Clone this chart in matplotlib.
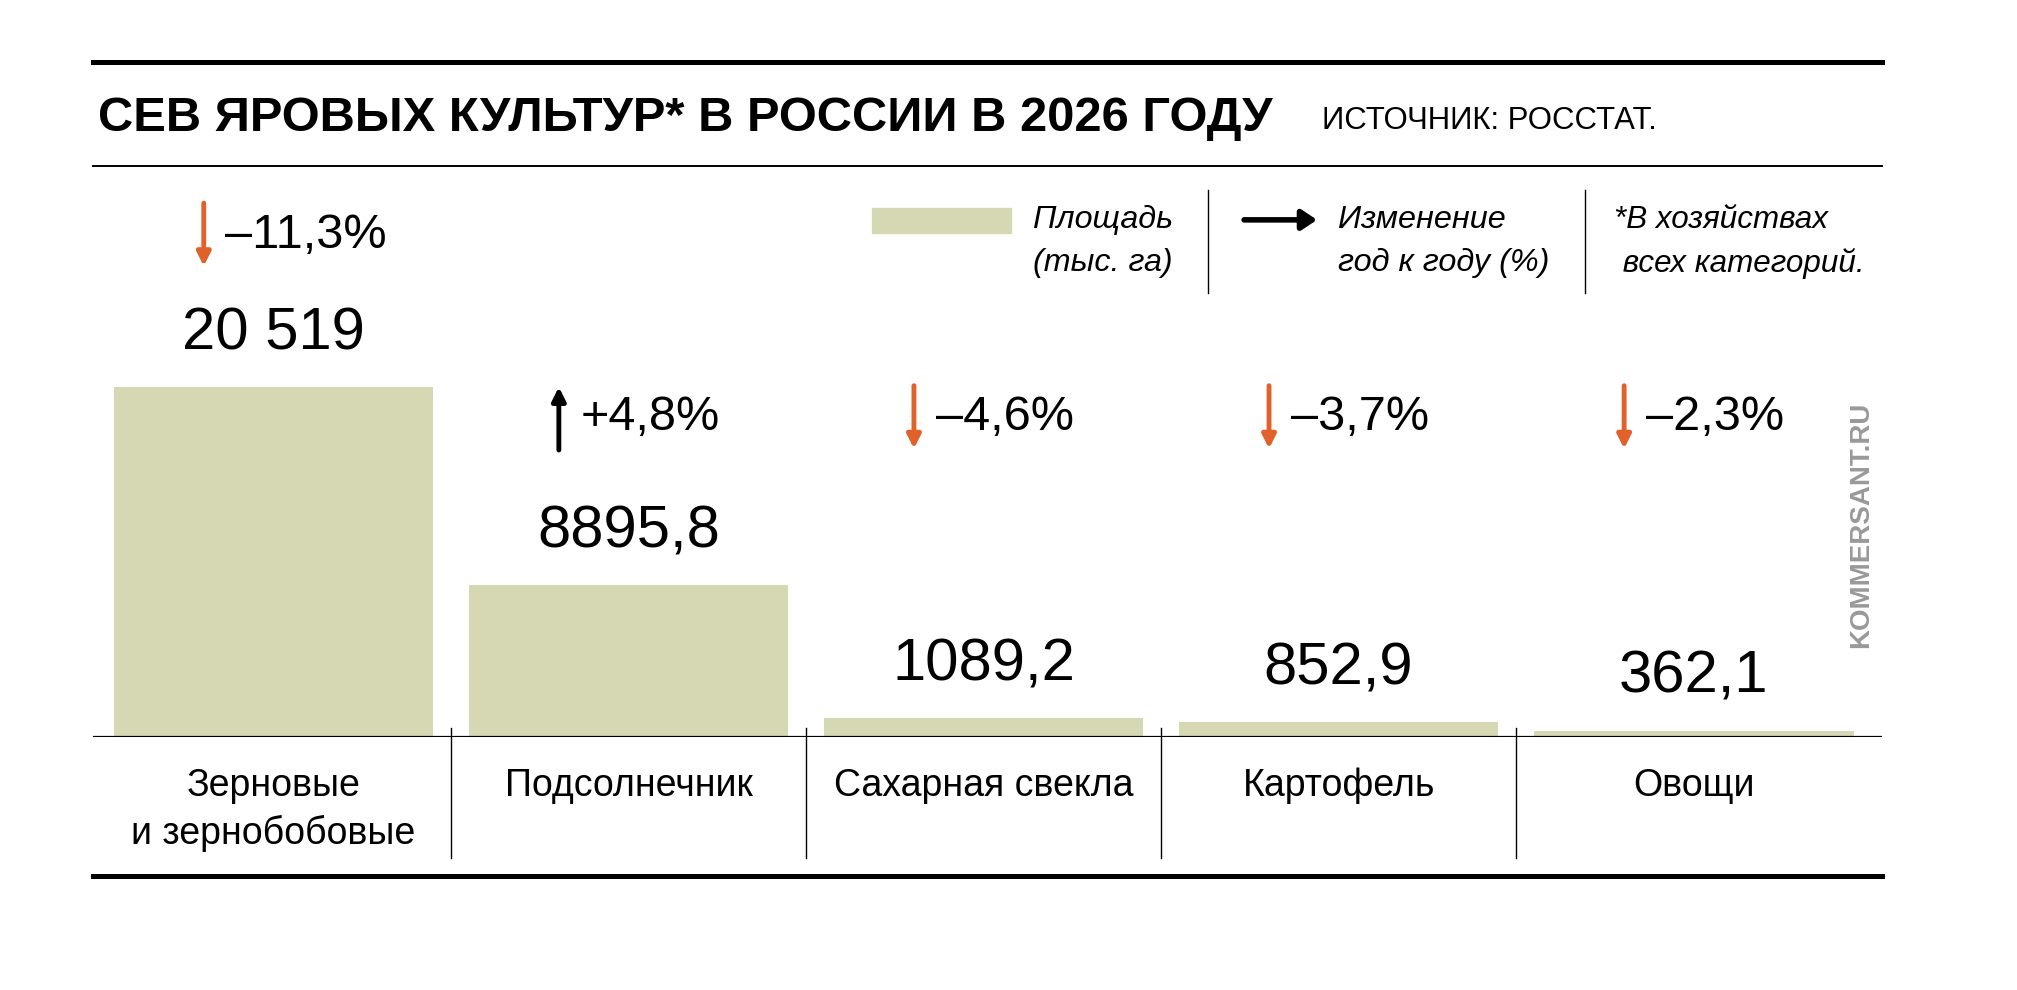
import matplotlib
matplotlib.use("Agg")
import matplotlib.pyplot as plt
from matplotlib.lines import Line2D
from matplotlib.patches import Rectangle, FancyArrowPatch

crops = ["Зерновые\nи зернобобовые", "Подсолнечник", "Сахарная свекла", "Картофель", "Овощи"]
area = [20519, 8895.8, 1089.2, 852.9, 362.1]
area_labels = ["20 519", "8895,8", "1089,2", "852,9", "362,1"]
change = [-11.3, 4.8, -4.6, -3.7, -2.3]

title = "СЕВ ЯРОВЫХ КУЛЬТУР* В РОССИИ В 2026 ГОДУ"
source = "ИСТОЧНИК: РОССТАТ."

BAR = "#d6d7b3"
ORANGE = "#e0622a"
FONT = ["Liberation Sans", "DejaVu Sans"]
plt.rcParams["font.family"] = FONT

# layout is measured on a 1568 x 770 grid and converted to figure fractions
W, H = 1568.0, 770.0
SCALE = 2017 / W
def fx(x):
    return x / W
def fy(y):
    return 1 - y / H

fig = plt.figure(figsize=(20.17, 9.9), dpi=100)
renderer = fig.canvas.get_renderer()

def fit(t, width):
    # shrink or grow a text so it spans the given width (grid pixels)
    w = t.get_window_extent(renderer=renderer).width
    t.set_fontsize(t.get_fontsize() * width * SCALE / w)

def hline(y, x0, x1, lw):
    fig.add_artist(Line2D([fx(x0), fx(x1)], [fy(y), fy(y)], color="black", lw=lw, transform=fig.transFigure))

def vline(x, y0, y1, lw=1.0):
    fig.add_artist(Line2D([fx(x), fx(x)], [fy(y0), fy(y1)], color="black", lw=lw, transform=fig.transFigure))

hline(48, 72, 1463, 3.6)
hline(129, 72, 1463, 1.4)
hline(681, 72, 1463, 3.6)

t = fig.text(fx(76), fy(92), title, fontsize=34, fontweight="bold", va="center", ha="left")
fit(t, 914)
t = fig.text(fx(1028), fy(94), source, fontsize=22, va="center", ha="left")
fit(t, 259)

# legend
fig.add_artist(Rectangle((fx(678), fy(181)), fx(786) - fx(678), fy(162) - fy(181), color=BAR, transform=fig.transFigure))
t = fig.text(fx(803), fy(188), "Площадь\n(тыс. га)", fontsize=24, style="italic", va="center", ha="left", linespacing=1.55)
fit(t, 109)
vline(939, 148, 228)
fig.add_artist(FancyArrowPatch((fx(965), fy(171)), (fx(1026), fy(171)), transform=fig.transFigure,
                               arrowstyle="-|>,head_length=9,head_width=6", color="black", lw=4))
t = fig.text(fx(1040), fy(188), "Изменение\nгод к году (%)", fontsize=24, style="italic", va="center", ha="left", linespacing=1.55)
fit(t, 165)
vline(1232, 148, 228)
t = fig.text(fx(1255), fy(188), "*В хозяйствах\n всех категорий.", fontsize=24, style="italic", va="center", ha="left", linespacing=1.55)
fit(t, 195)

# bars
top_px = 129.0
base_px = 573.0
ax = fig.add_axes([fx(72), fy(base_px), fx(1463) - fx(72), fy(top_px) - fy(base_px)])
ymax = max(area) * (base_px - top_px) / 272.0
px = ymax / (base_px - top_px)  # data units per grid pixel
x = list(range(len(crops)))
ax.bar(x, area, width=0.9, color=BAR)
ax.set_xlim(-0.509, 4.53)
ax.set_ylim(0, ymax)
ax.axis("off")
ax.axhline(0, color="black", lw=1.6)

for i, v in enumerate(area):
    ax.text(i, v + 20 * px, area_labels[i], fontsize=43, ha="center", va="bottom")
    py = max(248 * px, v + 118 * px)
    c = ORANGE if change[i] < 0 else "black"
    if change[i] < 0:
        start, end = py + 25 * px, py - 24 * px
        s = "–" + f"{abs(change[i]):.1f}".replace(".", ",") + "%"
    else:
        start, end = py - 25 * px, py + 24 * px
        s = "+" + f"{change[i]:.1f}".replace(".", ",") + "%"
    ax.annotate("", xy=(i - 0.196, end), xytext=(i - 0.196, start),
                arrowprops=dict(arrowstyle="-|>,head_length=0.8,head_width=0.4", color=c, lw=3.5, shrinkA=0, shrinkB=0),
                annotation_clip=False)
    ax.text(i - 0.135, py, s, fontsize=35, ha="left", va="center")

# category labels and separators
for i, name in enumerate(crops):
    ax.text(i, -24 * px, name, fontsize=27, ha="center", va="top", linespacing=1.4)
for i in range(len(crops) - 1):
    ax.plot([i + 0.5, i + 0.5], [7 * px, -94 * px], color="black", lw=1.0, clip_on=False)

fig.text(fx(1447), fy(408), "KOMMERSANT.RU", fontsize=20, fontweight="bold", color="#999999",
         rotation=90, ha="center", va="center")

fig.savefig("out.png", dpi=100, facecolor="white")
